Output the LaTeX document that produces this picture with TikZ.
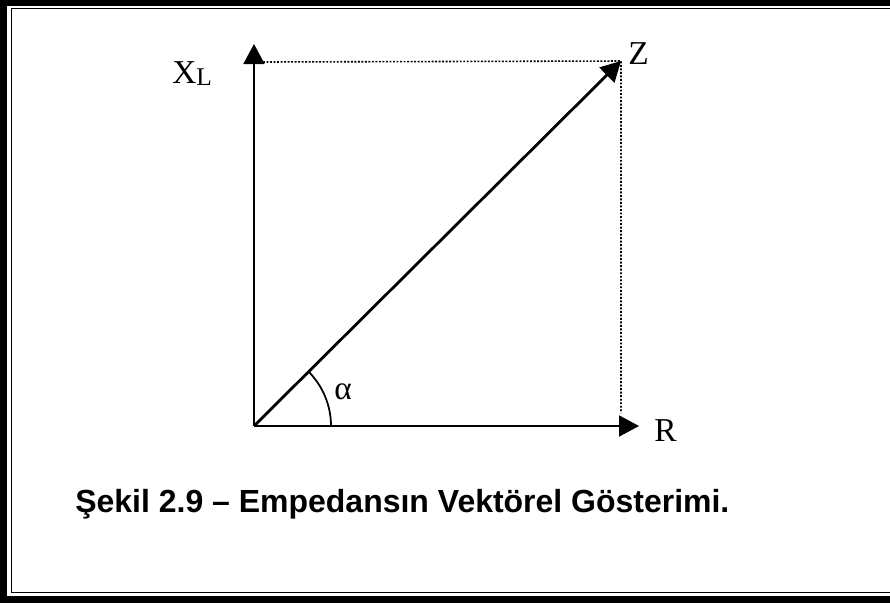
\documentclass[tikz,border=0pt]{standalone}
\usepackage{fontspec}
\setmainfont{Liberation Serif}
\newfontfamily\capfont{Liberation Sans}
\usetikzlibrary{arrows.meta,positioning,calc}

\begin{document}
\begin{tikzpicture}[x=0.02cm,y=-0.02cm,
   vec/.style={line width=1.1pt,-{Triangle[length=0.4cm,width=0.42cm]}},
   proj/.style={line width=0.9pt,dash pattern=on 1.1pt off 0.9pt},
   lab/.style={font=\fontsize{19}{22}\selectfont,inner sep=0pt,anchor=base west}]
  \useasboundingbox (0,0) rectangle (890,603);
  % frame
  \draw[line width=0.14cm] (3.5,603) -- (3.5,2.5) -- (890,2.5);
  \draw[line width=0.14cm] (0,599.5) -- (890,599.5);
  \draw[line width=0.5pt] (11,592) -- (11,8) -- (890,8);
  \draw[line width=0.5pt] (11,592) -- (890,592);
  % vectors
  \coordinate (o) at (254,426);
  \coordinate (xl) at (254,44);
  \coordinate (r) at (639,426);
  \coordinate (z) at (621,61);
  \coordinate (xlside) at (263,62);
  \coordinate (rtop) at (621,413);
  \draw[vec] (o) -- (xl);
  \draw[vec] (o) -- (r);
  \draw[vec,line width=1.6pt] (o) -- (z);
  \draw[proj] (xlside) -- (z) -- (rtop);
  \draw[line width=1pt] ($(o)+(77,0)$) arc[start angle=0,end angle=-45,radius=77];
  % labels
  \node[lab] (xlab) at (172,83) {X\raisebox{-1.7pt}{\fontsize{14.5}{15}\selectfont L}};
  \node[lab] (zlab) at (628,64) {Z};
  \node[lab] (rlab) at (654,441) {R};
  \node[lab] (alab) at (334,399) {α};
  \node[inner sep=0pt,anchor=base west,font=\capfont\bfseries\fontsize{18.2}{21}\selectfont]
    (cap) at (75,512) {Şekil 2.9 – Empedansın Vektörel Gösterimi.};
\end{tikzpicture}
\end{document}
